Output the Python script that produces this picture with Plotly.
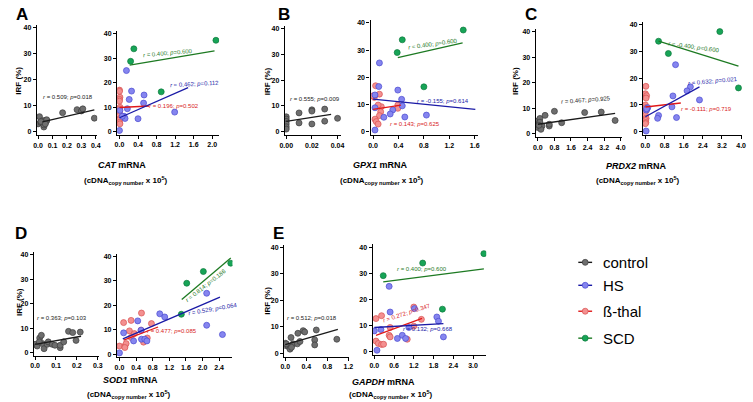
import plotly.graph_objects as go

W, H = 753, 402

# ---------------- DATA ----------------
# Panel A (CAT)
A_ctrl_x = [0.00, 0.01, 0.02, 0.03, 0.03, 0.04, 0.04, 0.05, 0.05, 0.06, 0.06, 0.02, 0.05, 0.17, 0.27, 0.30, 0.31, 0.39]
A_ctrl_y = [3.0, 5.8, 3.5, 3.8, 4.2, 1.8, 2.6, 3.3, 4.4, 4.2, 4.6, 3.9, 3.0, 7.3, 8.5, 8.0, 8.8, 5.2]
A_hs_x = [0.15, 0.26, 0.21, 0.17, 0.10, 0.12, 0.06, 0.01, 0.00, 0.53, 0.52, 0.40, 1.19]
A_hs_y = [25.0, 16.6, 13.2, 9.4, 6.3, 5.4, 6.3, 8.7, 0.5, 15.0, 11.7, 5.3, 8.0]
A_thal_x = [0.00, 0.01, 0.00, 0.00, 0.01, 0.00, 0.00, 0.00, 0.01, 0.00, 0.00, 0.01, 0.00]
A_thal_y = [17.0, 14.1, 13.2, 12.5, 10.0, 9.3, 8.0, 6.6, 5.4, 4.8, 3.8, 3.2, 16.5]
A_scd_x = [0.24, 0.31, 0.90, 2.08]
A_scd_y = [28.8, 33.9, 16.3, 37.4]
A_fit = {"ctrl": ([0.03, 0.39], [3.8, 8.4]), "hs": ([0.0, 1.48], [5.7, 18.0]),
         "thal": ([0.0, 0.64], [9.9, 10.5]), "scd": ([0.22, 2.05], [27.2, 33.1])}
A_stats = {"ctrl": (0.509, "0.018"), "hs": (0.462, "0.112"), "thal": (0.196, "0.502"), "scd": (0.400, "0.600")}

# Panel B (GPX1)
B_ctrl_x = [0, 0, 0, 0, 0, 0, 0.01, 0.01, 0.02, 0.02, 0.02, 0.03, 0.03, 0.04]
B_ctrl_y = [5.8, 4.9, 4.0, 3.0, 1.9, 1.0, 7.3, 3.4, 8.5, 8.0, 3.0, 8.8, 4.1, 5.2]
B_hs_x = [0.10, 0.09, 0.03, 0.03, 0.03, 0.39, 0.45, 0.46, 0.31, 0.27, 0.17, 0.50, 0.84]
B_hs_y = [25.3, 16.6, 13.5, 8.8, 0.6, 15.3, 11.9, 9.5, 8.0, 6.5, 5.3, 5.4, 6.1]
B_thal_x = [0.04, 0.10, 0.02, 0.13, 0.12, 0.10, 0.03, 0.05, 0.08, 0.39, 0.39, 0.00, 0.08]
B_thal_y = [16.9, 13.8, 12.6, 9.2, 7.3, 5.9, 4.6, 3.7, 2.8, 9.8, 8.6, 13.2, 9.8]
B_scd_x = [0.46, 0.38, 0.80, 1.42]
B_scd_y = [33.8, 29.1, 16.5, 37.4]
B_fit = {"ctrl": ([0.0, 0.035], [4.0, 6.7]), "hs": ([0.0, 1.61], [12.0, 8.2]),
         "thal": ([0.0, 0.44], [8.2, 9.8]), "scd": ([0.39, 1.41], [27.2, 32.7])}
B_stats = {"ctrl": (0.555, "0.009"), "hs": (-0.155, "0.614"), "thal": (0.143, "0.625"), "scd": (0.400, "0.600")}

# Panel C (PRDX2)
C_ctrl_x = [0.0, 0.0, 0.05, 0.10, 0.20, 0.15, 0.35, 0.80, 0.55, 0.55, 1.15, 2.26, 3.06, 3.73, 0.10, 0.05]
C_ctrl_y = [5.0, 2.4, 3.8, 6.0, 3.0, 1.7, 7.2, 8.8, 3.0, 3.7, 4.3, 8.3, 8.5, 5.2, 4.5, 3.3]
C_hs_x = [1.26, 1.88, 1.74, 1.15, 2.26, 1.11, 1.30, 0.55, 0.51, 0.04, 0.10, 0.03, 0.05]
C_hs_y = [25.1, 16.8, 15.3, 13.4, 11.9, 9.3, 5.3, 6.1, 5.0, 8.1, 9.0, 0.25, 8.6]
C_thal_x = [0.02, 0.00, 0.05, 0.03, 0.00, 0.02, 0.04, 0.00, 0.03, 0.01, 0.02, 0.00]
C_thal_y = [17.0, 14.2, 13.5, 12.6, 10.0, 9.0, 8.0, 6.2, 5.0, 4.2, 3.4, 3.0]
C_scd_x = [0.55, 0.96, 3.11, 3.89]
C_scd_y = [33.9, 29.3, 37.5, 16.4]
C_fit = {"ctrl": ([0.0, 3.73], [3.7, 8.0]), "hs": ([0.0, 2.26], [5.6, 16.8]),
         "thal": ([0.0, 1.48], [9.25, 10.75]), "scd": ([0.55, 3.89], [33.9, 24.6])}
C_stats = {"ctrl": (0.467, "0.925"), "hs": (0.632, "0.021"), "thal": (-0.111, "0.719"), "scd": (-0.400, "0.600")}

# Panel D (SOD1)
D_ctrl_x = [0.0, 0.01, 0.022, 0.03, 0.035, 0.043, 0.058, 0.063, 0.082, 0.095, 0.12, 0.12, 0.137, 0.16, 0.18, 0.196, 0.216, 0.02]
D_ctrl_y = [3.4, 2.7, 6.0, 7.1, 3.7, 1.6, 3.4, 4.4, 3.4, 3.0, 2.0, 3.0, 4.4, 8.7, 8.2, 5.0, 8.4, 4.4]
D_hs_x = [0.0, 0.10, 0.34, 0.44, 0.52, 0.53, 0.61, 0.66, 0.97, 1.09, 2.10, 2.48, 2.10]
D_hs_y = [0.5, 8.7, 5.4, 13.6, 9.8, 6.1, 6.1, 5.4, 16.5, 15.2, 11.8, 8.0, 24.9]
D_thal_x = [0.0, 0.10, 0.13, 0.16, 0.13, 0.28, 0.24, 0.53, 0.52, 0.58, 0.67, 0.77, 0.28, 0.36]
D_thal_y = [3.3, 12.9, 3.3, 4.3, 2.7, 13.8, 9.5, 16.8, 9.8, 4.9, 6.6, 12.5, 6.8, 8.4]
D_scd_x = [1.62, 2.02, 2.68, 1.49]
D_scd_y = [29.0, 33.8, 37.2, 16.3]
D_fit = {"ctrl": ([0.0, 0.22], [3.4, 6.7]), "hs": ([0.08, 2.42], [6.2, 23.3]),
         "thal": ([0.10, 0.93], [5.7, 11.1]), "scd": ([1.50, 2.68], [22.4, 39.3])}
D_stats = {"ctrl": (0.363, "0.103"), "hs": (0.529, "0.064"), "thal": (0.477, "0.085"), "scd": (0.814, "0.186")}

# Panel E (GAPDH)
E_ctrl_x = [0.0, 0.0, 0.06, 0.11, 0.09, 0.15, 0.23, 0.24, 0.28, 0.34, 0.37, 0.56, 0.56, 0.59, 0.98, 0.02, 0.12]
E_ctrl_y = [3.75, 2.9, 2.5, 5.9, 1.5, 3.5, 3.5, 7.5, 4.4, 8.5, 8.0, 5.0, 3.1, 8.75, 5.25, 3.5, 2.2]
E_hs_x = [0.45, 1.22, 0.48, 1.90, 1.95, 2.10, 1.05, 0.85, 0.70, 0.95, 0.20, 0.00, 0.08]
E_hs_y = [25.0, 16.5, 15.2, 13.3, 11.7, 5.7, 9.3, 6.3, 5.1, 5.1, 8.5, 8.0, 0.6]
E_thal_x = [0.05, 0.22, 1.20, 1.20, 1.43, 0.48, 0.45, 0.48, 0.05, 0.12, 0.22, 0.28, 1.00]
E_thal_y = [12.7, 13.8, 17.1, 9.8, 12.4, 9.3, 6.3, 5.7, 4.1, 3.2, 2.8, 2.9, 4.8]
E_scd_x = [0.27, 1.47, 3.33, 2.07]
E_scd_y = [29.1, 33.9, 37.5, 16.3]
E_fit = {"ctrl": ([0.0, 1.0], [3.2, 9.0]), "hs": ([0.0, 2.1], [9.3, 10.8]),
         "thal": ([0.05, 1.45], [6.3, 12.8]), "scd": ([0.27, 3.33], [26.7, 31.7])}
E_stats = {"ctrl": (0.512, "0.018"), "hs": (0.132, "0.668"), "thal": (0.272, "0.347"), "scd": (0.400, "0.600")}

GENES = ["CAT", "GPX1", "PRDX2", "SOD1", "GAPDH"]
LETTERS = ["A", "B", "C", "D", "E"]
GROUP_ORDER = ["ctrl", "hs", "thal", "scd"]
GROUP_NAMES = {"ctrl": "control", "hs": "HS", "thal": "ß-thal", "scd": "SCD"}
Y_TICKS = [0, 10, 20, 30, 40]

# ---------------- STYLE ----------------
STY = {
    "ctrl": dict(fill="#6e6e6e", edge="#3c3c3c", line="#1a1a1a", text="#1a1a1a"),
    "hs": dict(fill="#8585ef", edge="#4a4ad0", line="#1a1aa6", text="#2222a8"),
    "thal": dict(fill="#f39090", edge="#d85050", line="#e01818", text="#d81c1c"),
    "scd": dict(fill="#17a457", edge="#0d7a3c", line="#1d7a22", text="#2a7a2a"),
}
FONT = "Arial, Liberation Sans, sans-serif"
MSIZE = 6


def dom(v0, p0, v1, p1, lo, hi, size, vertical):
    s = (p1 - p0) / (v1 - v0)
    a = p0 + (lo - v0) * s
    b = p0 + (hi - v0) * s
    if vertical:
        return [1 - a / size, 1 - b / size]
    return [a / size, b / size]


# axis geometry per sub-plot: (xcal, xrange, dtick, fmt, ycal)
AX = [
    ((0, 32.5, 0.4, 91), [-0.008, 0.41], 0.1, ".1f", (0, 131, 40, 27)),
    ((0, 115, 2.0, 209), [-0.05, 2.15], 0.4, ".1f", (0, 131, 40, 33)),
    ((0, 284, 0.04, 336), [-0.001, 0.043], 0.02, ".2f", (0, 131, 40, 28)),
    ((0, 372, 1.6, 475), [-0.04, 1.65], 0.4, ".1f", (0, 131, 40, 22)),
    ((0, 539, 4.0, 623), [-0.1, 4.05], 0.8, ".1f", (0, 133, 40, 31)),
    ((0, 648, 4.0, 745), [-0.1, 4.05], 0.8, ".1f", (0, 131, 40, 24)),
    ((0, 29.5, 0.3, 93), [-0.006, 0.305], 0.1, ".1f", (0, 352.5, 40, 254.5)),
    ((0, 115, 2.4, 216), [-0.06, 2.72], 0.4, ".1f", (0, 354, 40, 256)),
    ((0, 283, 1.2, 347), [-0.02, 1.22], 0.4, ".1f", (0, 353, 40, 247)),
    ((0, 373.3, 3.0, 473.3), [-0.05, 3.4], 0.6, ".1f", (0, 351.7, 40, 246.7)),
]
Y_RANGE = [-1.3, 41]

PANELS = [
    (A_ctrl_x, A_ctrl_y, A_hs_x, A_hs_y, A_thal_x, A_thal_y, A_scd_x, A_scd_y, A_fit, A_stats),
    (B_ctrl_x, B_ctrl_y, B_hs_x, B_hs_y, B_thal_x, B_thal_y, B_scd_x, B_scd_y, B_fit, B_stats),
    (C_ctrl_x, C_ctrl_y, C_hs_x, C_hs_y, C_thal_x, C_thal_y, C_scd_x, C_scd_y, C_fit, C_stats),
    (D_ctrl_x, D_ctrl_y, D_hs_x, D_hs_y, D_thal_x, D_thal_y, D_scd_x, D_scd_y, D_fit, D_stats),
    (E_ctrl_x, E_ctrl_y, E_hs_x, E_hs_y, E_thal_x, E_thal_y, E_scd_x, E_scd_y, E_fit, E_stats),
]

# stat label placement (px center, angle) per panel per group
LABEL_POS = [
    {"ctrl": (63, 96, 0), "hs": (191, 83, -3), "thal": (170, 105, 0), "scd": (164, 52, -5)},
    {"ctrl": (313, 98, 0), "hs": (443, 100, 0), "thal": (415, 123, 0), "scd": (433, 43, -8)},
    {"ctrl": (588, 99, -4), "hs": (717, 80, -5), "thal": (710, 108, 0), "scd": (697, 46, 8)},
    {"ctrl": (57, 318, 0), "hs": (210, 309, -10), "thal": (168, 331, 0), "scd": (203, 285, -38)},
    {"ctrl": (310, 318, 0), "hs": (428, 329, 0), "thal": (406, 313, -18), "scd": (422, 269, 0)},
]
LETTER_POS = [(16, 14), (282, 14), (532, 14), (15, 233), (276, 233)]
XT1_POS = [(118, 164), (380, 164), (639, 165), (126, 380), (383, 382)]
XT2_POS = [(122, 180), (381, 180), (640, 180), (125, 394), (390, 394)]
YT_POS = [(13, 80), (265, 80), (517, 80), (13, 302), (265, 300)]
LEG_X = 587      # legend key centre (px)
LEG_Y = [262, 285, 311, 338]

fig = go.Figure()
layout = dict(width=W, height=H, margin=dict(l=0, r=0, t=0, b=0),
              paper_bgcolor="white", plot_bgcolor="white", showlegend=False)
annotations = []
shapes = []

for pi, panel in enumerate(PANELS):
    cx, cy, hx, hy, tx, ty, sx, sy, fit, stats = panel
    for side in range(2):
        k = pi * 2 + side + 1
        xc, xr, dt, fmt, yc = AX[k - 1]
        xs = "" if k == 1 else str(k)
        layout["xaxis" + xs] = dict(
            domain=dom(xc[0], xc[1], xc[2], xc[3], xr[0], xr[1], W, False),
            range=xr, dtick=dt, tick0=0, tickformat=fmt, anchor="y" + xs,
            showline=True, linecolor="black", linewidth=1.3, ticks="outside",
            ticklen=3, tickwidth=1, tickcolor="black", showgrid=False, zeroline=False,
            tickfont=dict(family=FONT, size=7, color="black", weight="bold"))
        layout["yaxis" + xs] = dict(
            domain=dom(yc[0], yc[1], yc[2], yc[3], Y_RANGE[0], Y_RANGE[1], H, True),
            range=Y_RANGE, tickvals=Y_TICKS, anchor="x" + xs,
            showline=True, linecolor="black", linewidth=1.3, ticks="outside",
            ticklen=3, tickwidth=1, tickcolor="black", showgrid=False, zeroline=False,
            tickfont=dict(family=FONT, size=7, color="black", weight="bold"))
        groups = [("ctrl", cx, cy)] if side == 0 else [("thal", tx, ty), ("hs", hx, hy), ("scd", sx, sy)]
        for g, gx, gy in groups:
            st = STY[g]
            fig.add_trace(go.Scatter(x=gx, y=gy, mode="markers", xaxis="x" + xs, yaxis="y" + xs,
                                     marker=dict(size=MSIZE, color=st["fill"], line=dict(color=st["edge"], width=0.7)),
                                     hoverinfo="skip"))
        for g, gx, gy in groups:
            st = STY[g]
            fx, fy = fit[g]
            fig.add_trace(go.Scatter(x=fx, y=fy, mode="lines", xaxis="x" + xs, yaxis="y" + xs,
                                     line=dict(color=st["line"], width=1.3), hoverinfo="skip"))
            r, p = stats[g]
            px, py, ang = LABEL_POS[pi][g]
            annotations.append(dict(
                text="<i>r</i> = %.3f; <i>p</i>=%s" % (r, p), x=px / W, y=1 - py / H,
                xref="paper", yref="paper", showarrow=False, textangle=ang,
                xanchor="center", yanchor="middle",
                font=dict(family=FONT, size=6, color=st["text"])))

    lx, ly = LETTER_POS[pi]
    annotations.append(dict(text="<b>%s</b>" % LETTERS[pi], x=lx / W, y=1 - ly / H, xref="paper", yref="paper",
                            showarrow=False, xanchor="center", yanchor="middle",
                            font=dict(family=FONT, size=17, color="black")))
    x1, y1 = XT1_POS[pi]
    annotations.append(dict(text="<b><i>%s</i> mRNA</b>" % GENES[pi], x=x1 / W, y=1 - y1 / H,
                            xref="paper", yref="paper", showarrow=False, xanchor="center", yanchor="middle",
                            font=dict(family=FONT, size=9, color="black")))
    x2, y2 = XT2_POS[pi]
    annotations.append(dict(text="<b>(cDNA<sub>copy number</sub> x 10<sup>5</sup>)</b>", x=x2 / W, y=1 - y2 / H,
                            xref="paper", yref="paper", showarrow=False, xanchor="center", yanchor="middle",
                            font=dict(family=FONT, size=8, color="black")))
    yx, yy = YT_POS[pi]
    annotations.append(dict(text="<b>IRF (%)</b>", x=yx / W, y=1 - yy / H, xref="paper", yref="paper",
                            showarrow=False, textangle=-90, xanchor="center", yanchor="middle",
                            font=dict(family=FONT, size=8, color="black")))

# hand-made legend (short line key with a dot, as in the reference)
for g, ypx in zip(GROUP_ORDER, LEG_Y):
    st = STY[g]
    yp = 1 - ypx / H
    shapes.append(dict(type="line", xref="paper", yref="paper",
                       x0=(LEG_X - 7) / W, x1=(LEG_X + 7) / W, y0=yp, y1=yp,
                       line=dict(color=st["line"], width=1.4)))
    shapes.append(dict(type="circle", xref="paper", yref="paper",
                       x0=(LEG_X - 3) / W, x1=(LEG_X + 3) / W, y0=yp - 3 / H, y1=yp + 3 / H,
                       fillcolor=st["fill"], line=dict(color=st["edge"], width=0.7)))
    annotations.append(dict(text=GROUP_NAMES[g], x=(LEG_X + 16) / W, y=yp, xref="paper", yref="paper",
                            showarrow=False, xanchor="left", yanchor="middle",
                            font=dict(family=FONT, size=15, color="black")))

layout["annotations"] = annotations
layout["shapes"] = shapes
fig.update_layout(**layout)
fig.write_html("out.html")
